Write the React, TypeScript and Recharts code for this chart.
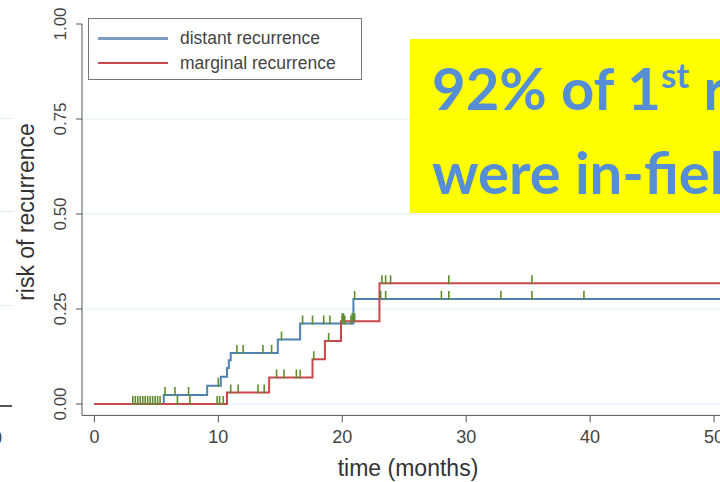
import { ComposedChart, Line, Scatter, XAxis, YAxis, CartesianGrid, Legend } from "recharts";

// step curves: time (months) at which the cumulative risk changes, and the new value
const distantT = [0, 5.6, 9.1, 10.2, 10.7, 10.85, 11.0, 14.8, 16.6, 20.9, 60];
const distantV = [0, 0.024, 0.048, 0.072, 0.095, 0.115, 0.134, 0.17, 0.212, 0.276, 0.276];
const marginalT = [0, 10.7, 14.1, 17.6, 18.6, 19.9, 23.0, 60];
const marginalV = [0, 0.03, 0.07, 0.118, 0.166, 0.218, 0.318, 0.318];

// censoring times (green ticks)
const distantCens = [3.1, 3.3, 3.5, 3.7, 3.9, 4.1, 4.3, 4.5, 4.7, 4.9, 5.1, 5.3, 5.7, 6.5, 7.6, 10.0,
  11.5, 12.0, 13.6, 14.3, 15.1, 16.8, 17.6, 18.5, 19.0, 20.0, 20.2, 20.7, 21.0, 23.1, 23.5,
  28.0, 28.6, 32.8, 35.3, 39.5];
const marginalCens = [6.7, 7.7, 9.9, 10.1, 10.4, 11.0, 11.6, 13.2, 13.7, 14.7, 15.3, 16.3, 16.6,
  17.7, 18.9, 20.0, 20.1, 20.8, 21.0, 23.2, 23.5, 23.9, 28.6, 35.3];

const xTicks = [0, 10, 20, 30, 40, 50, 60];
const yTicks = [0, 0.25, 0.5, 0.75, 1];
const gridValues = [0, 0.25, 0.5, 0.75];

const BLUE = "#4f81b3";
const RED = "#c8474c";
const GREEN = "#5f8c2e";
const FONT = "'Liberation Sans', Arial, sans-serif";

const steps = (t: number[], v: number[]) => t.map((x, i) => ({ t: x, v: v[i] }));
const stepAt = (t: number[], v: number[], x: number) => {
  let r = v[0];
  t.forEach((tt, i) => { if (tt <= x) r = v[i]; });
  return r;
};
const censors = (c: number[], t: number[], v: number[]) => c.map(x => ({ t: x, v: stepAt(t, v, x) }));

const distant = steps(distantT, distantV);
const marginal = steps(marginalT, marginalV);
const censAll = [...censors(distantCens, distantT, distantV), ...censors(marginalCens, marginalT, marginalV)];

const YTick = ({ x, y, payload }: any) => (
  <text x={x - 8} y={y} transform={`rotate(-90 ${x - 8} ${y})`} textAnchor="middle"
    fontFamily={FONT} fontSize={17} fill="#444">
    {payload.value.toFixed(2)}
  </text>
);

const CensorMark = ({ cx, cy }: any) => (
  <line x1={cx} x2={cx} y1={cy - 8} y2={cy + 1} stroke={GREEN} strokeWidth={1.6} />
);

const LegendBox = ({ payload }: any) => (
  <div style={{ position: "relative", width: 274, height: 62, border: "1px solid #777",
    boxSizing: "border-box", background: "#fff", fontFamily: FONT }}>
    {(payload || []).filter((p: any) => p.type !== "none" && p.value !== "v").map((p: any, i: number) => (
      <div key={i}>
        <div style={{ position: "absolute", left: 9, top: 18 + 25 * i, width: 70,
          height: i === 0 ? 3 : 2, background: i === 0 ? "#7d9cc0" : p.color }} />
        <div style={{ position: "absolute", left: 91, top: 9 + 25 * i, fontSize: 17.5,
          lineHeight: "20px", color: "#444", whiteSpace: "nowrap" }}>{p.value}</div>
      </div>
    ))}
  </div>
);

export default function App() {
  return (
    <div style={{ position: "fixed", left: 0, top: 0, width: 720, height: 482,
      overflow: "hidden", background: "#fff" }}>
      {/* edge of the neighbouring panel */}
      {[118, 211, 305].map(y => (
        <div key={y} style={{ position: "absolute", left: 0, top: y, width: 14, height: 1, background: "#e6eef2" }} />
      ))}
      <div style={{ position: "absolute", left: 0, top: 405, width: 12, height: 2, background: "#555" }} />
      <div style={{ position: "absolute", left: -8, top: 428, fontFamily: FONT, fontSize: 18, color: "#444" }}>0</div>

      <ComposedChart width={900} height={482} margin={{ top: 24, right: 62, bottom: 0, left: 0 }}
        style={{ position: "absolute", left: 0, top: 0 }}>
        <CartesianGrid horizontal vertical={false} horizontalValues={gridValues} stroke="#e2ecf1" />
        <XAxis type="number" dataKey="t" domain={[-1, 60]} ticks={xTicks} height={66.6}
          allowDataOverflow stroke="#555" tickSize={7} tickMargin={8}
          tick={{ fontFamily: FONT, fontSize: 18, fill: "#444" }}
          label={{ content: () => (
            <text x={408} y={476} textAnchor="middle" fontFamily={FONT} fontSize={23} fill="#333">
              time (months)
            </text>
          ) }} />
        <YAxis type="number" domain={[-0.03, 1]} ticks={yTicks} width={82}
          allowDataOverflow stroke="#555" tickSize={6} tickMargin={2} tick={<YTick />}
          label={{ content: () => (
            <text x={34} y={212} transform="rotate(-90 34 212)" textAnchor="middle"
              fontFamily={FONT} fontSize={23} fill="#333">
              risk of recurrence
            </text>
          ) }} />
        <Legend layout="vertical" align="center" verticalAlign="middle" content={<LegendBox />}
          wrapperStyle={{ position: "absolute", left: 88, top: 18, width: 274 }} />
        <Line data={distant} dataKey="v" name="distant recurrence" type="stepAfter" stroke={BLUE}
          strokeWidth={2} dot={false} isAnimationActive={false} />
        <Line data={marginal} dataKey="v" name="marginal recurrence" type="stepAfter" stroke={RED}
          strokeWidth={2} dot={false} isAnimationActive={false} />
        <Scatter data={censAll} dataKey="v" shape={<CensorMark />} legendType="none"
          isAnimationActive={false} />
      </ComposedChart>
      <div style={{ position: "absolute", left: 410, top: 39, width: 400, height: 174,
        background: "#ffff00", boxSizing: "border-box", padding: "11px 0 0 22px",
        fontFamily: "Lato, sans-serif", fontWeight: 700, fontSize: 58, lineHeight: "75px",
        color: "#558ed5", whiteSpace: "nowrap" }}>
        92% of 1<span style={{ fontSize: 35, position: "relative", top: -22 }}>st</span> recurrences
        <br />
        were in-field
      </div>
    </div>
  );
}
